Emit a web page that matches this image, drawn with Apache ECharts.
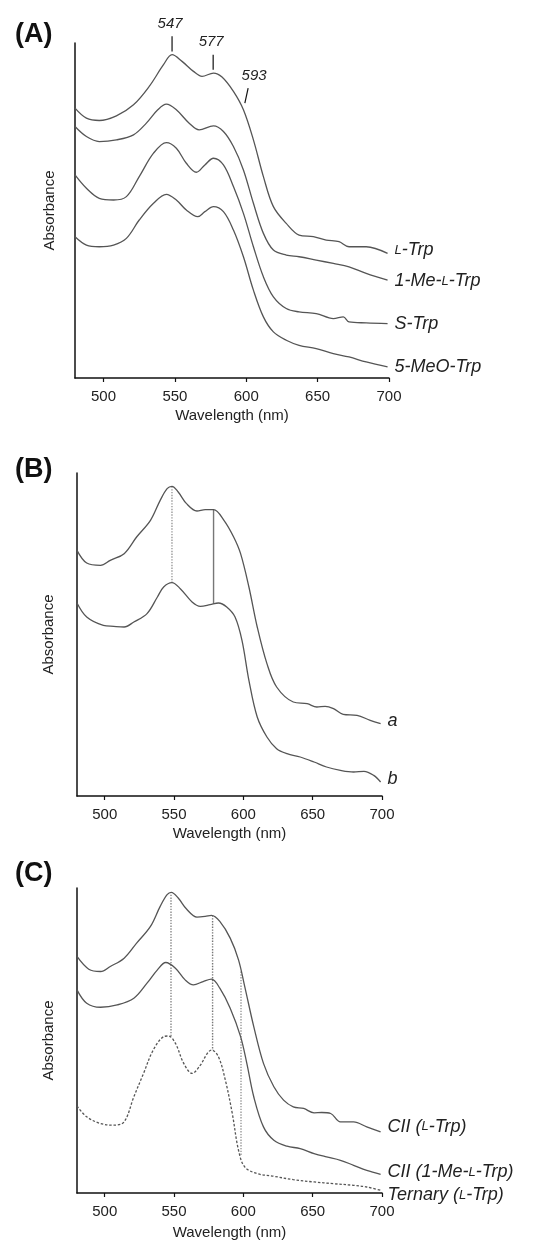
<!DOCTYPE html>
<html>
<head>
<meta charset="utf-8">
<script src="https://cdn.jsdelivr.net/npm/echarts@6/dist/echarts.min.js"></script>
<style>
  html, body { margin: 0; background: #fff; }
  #chart { width: 557px; height: 1248px; }
</style>
</head>
<body>
<div id="chart"></div>
<script>
// ---- data: [wavelength nm, absorbance (arbitrary, offset)] ----
const xTicks = [500, 550, 600, 650, 700];
const panelTitles = ['(A)', '(B)', '(C)'];

// panel A
const aLTrp = [[480,0.808],[488,0.778],[497,0.771],[509,0.785],[521,0.818],[532,0.873],[542,0.938],[548,0.968],[555,0.948],[563,0.918],[569,0.903],[577,0.913],[583,0.901],[591,0.858],[598,0.803],[605,0.713],[612,0.603],[619,0.513],[628,0.463],[637,0.428],[647,0.423],[656,0.413],[665,0.408],[672,0.393],[684,0.393],[699,0.373]];
const aMeLTrp = [[480,0.753],[488,0.723],[497,0.708],[509,0.713],[521,0.728],[530,0.763],[538,0.803],[544,0.820],[551,0.803],[560,0.763],[567,0.743],[577,0.755],[584,0.738],[591,0.693],[598,0.623],[605,0.523],[612,0.433],[619,0.383],[628,0.368],[637,0.363],[649,0.353],[661,0.343],[672,0.333],[684,0.313],[699,0.293]];
const aSTrp = [[480,0.608],[488,0.568],[497,0.538],[507,0.533],[516,0.543],[525,0.603],[535,0.673],[544,0.705],[551,0.688],[558,0.643],[565,0.616],[571,0.638],[577,0.658],[584,0.638],[591,0.573],[598,0.493],[605,0.393],[612,0.303],[619,0.243],[628,0.208],[637,0.198],[649,0.193],[661,0.178],[668,0.183],[672,0.168],[684,0.165],[699,0.163]];
const a5MeOTrp = [[480,0.423],[488,0.398],[497,0.393],[507,0.398],[516,0.418],[525,0.473],[535,0.523],[544,0.550],[551,0.533],[558,0.503],[566,0.483],[571,0.498],[577,0.513],[584,0.498],[591,0.443],[598,0.363],[605,0.263],[612,0.183],[619,0.138],[628,0.113],[637,0.098],[649,0.088],[661,0.073],[672,0.063],[684,0.048],[699,0.033]];
const aLabels = ['{sc|L}{t|-Trp}', '{t|1-Me-}{sc|L}{t|-Trp}', '{t|S-Trp}', '{t|5-MeO-Trp}'];
// peak annotations: label, [x,y] bottom, [x,y] top
const aPeaks = [
  ['547', [548, 0.978], [548, 1.023]],
  ['577', [576.8, 0.923], [576.8, 0.968]],
  ['593', [599, 0.823], [601.3, 0.868]]
];

// panel B
const bA = [[480,0.737],[487,0.699],[497,0.692],[504,0.707],[514,0.727],[523,0.777],[533,0.827],[540,0.887],[545,0.922],[548.5,0.929],[553,0.912],[559,0.877],[566.5,0.855],[572.5,0.859],[578.5,0.859],[586,0.827],[593,0.777],[598,0.727],[604,0.627],[610,0.507],[617,0.397],[624,0.327],[636,0.282],[646,0.277],[653,0.267],[659,0.269],[665,0.262],[672,0.245],[682,0.242],[691.5,0.227],[699,0.217]];
const bB = [[480,0.579],[487,0.537],[499,0.512],[506.5,0.509],[514,0.507],[521,0.522],[530.5,0.547],[538,0.597],[542.5,0.627],[548.5,0.640],[554.5,0.622],[563,0.582],[569,0.569],[576,0.574],[582,0.579],[588,0.567],[594,0.537],[599,0.467],[604,0.347],[610,0.237],[617,0.177],[624,0.142],[631.5,0.127],[641,0.117],[651,0.102],[660,0.087],[670,0.077],[679.5,0.072],[687,0.074],[694,0.062],[699,0.042]];
const bLabels = ['{t|a}', '{t|b}'];
// guide lines: x, y top, y bottom
const bGuides = [[548.5, 0.929, 0.640], [578.5, 0.859, 0.577]];

// panel C
const cLTrp = [[480,0.708],[488.5,0.670],[497,0.663],[504,0.678],[514,0.703],[523,0.748],[533,0.798],[540,0.858],[545,0.893],[548,0.900],[553,0.883],[559,0.850],[566.5,0.826],[572.5,0.828],[577,0.831],[583,0.813],[590.5,0.763],[596.5,0.698],[601,0.618],[607.5,0.498],[614.5,0.388],[622,0.318],[629,0.278],[636,0.258],[643.5,0.253],[651,0.240],[656.5,0.241],[663,0.238],[670,0.213],[679.5,0.213],[689,0.198],[699,0.183]];
const cMeLTrp = [[480,0.608],[487,0.568],[497,0.556],[509,0.563],[521,0.583],[530.5,0.628],[538,0.668],[544,0.690],[551,0.673],[558,0.638],[564,0.623],[571,0.633],[577,0.640],[583,0.613],[590.5,0.553],[598,0.468],[602.5,0.388],[607.5,0.288],[614.5,0.198],[622,0.158],[631.5,0.140],[641,0.133],[651,0.118],[660,0.108],[670,0.098],[679.5,0.083],[689,0.068],[699,0.056]];
const cTernary = [[480,0.260],[487,0.228],[497,0.208],[506.5,0.203],[514,0.213],[521,0.288],[528,0.358],[535,0.428],[542.5,0.468],[546,0.470],[551,0.448],[557,0.388],[563,0.358],[569,0.383],[574,0.418],[577,0.428],[582,0.408],[587,0.338],[592,0.238],[596.5,0.128],[601,0.078],[610,0.058],[622,0.050],[636,0.040],[651,0.033],[665,0.028],[679.5,0.023],[689,0.018],[699,0.008]];
const cLabels = ['{t|CII (}{sc|L}{t|-Trp)}', '{t|CII (1-Me-}{sc|L}{t|-Trp)}', '{t|Ternary (}{sc|L}{t|-Trp)}'];
const cGuides = [[547.8, 0.893, 0.468], [577.8, 0.831, 0.428], [598.3, 0.663, 0.113]];

// ---- chart ----
const FONT = '"Liberation Sans", Arial, Helvetica, sans-serif';
const INK = '#111';
const CURVE = '#555';

const grids = [
  { left: 75, top: 43, width: 314, height: 335 },
  { left: 77, top: 473, width: 305, height: 323 },
  { left: 77, top: 888, width: 305, height: 305 },
  { left: 75, top: 23, width: 314, height: 355 } // overlay for peak marks in (A)
];
const yMax = [1.003, 0.969, 0.913, 1.063];
const nameGaps = [30, 30, 32];
const yNameGaps = [18, 21, 21];

const xAxes = grids.map((g, i) => {
  if (i === 3) return { gridIndex: 3, type: 'value', min: 480, max: 700, show: false };
  return {
    gridIndex: i, type: 'value', min: 480, max: 700,
    name: 'Wavelength (nm)', nameLocation: 'middle', nameGap: nameGaps[i],
    nameTextStyle: { fontFamily: FONT, fontSize: 15, color: '#222' },
    axisLine: { onZero: false, lineStyle: { color: INK, width: 1.5 } },
    axisTick: { show: true, length: 4, customValues: xTicks, lineStyle: { color: INK, width: 1.2 } },
    axisLabel: { customValues: xTicks, fontFamily: FONT, fontSize: 15, color: '#222', margin: 11 },
    splitLine: { show: false }
  };
});
const yAxes = grids.map((g, i) => {
  if (i === 3) return { gridIndex: 3, type: 'value', min: 0, max: yMax[3], show: false };
  return {
    gridIndex: i, type: 'value', min: 0, max: yMax[i],
    name: 'Absorbance', nameLocation: 'middle', nameGap: yNameGaps[i],
    nameTextStyle: { fontFamily: FONT, fontSize: 15, color: '#222' },
    axisLine: { show: true, lineStyle: { color: INK, width: 1.5 } },
    axisTick: { show: false }, axisLabel: { show: false }, splitLine: { show: false }
  };
});

// small-caps "L" drawn as a smaller capital
const rich = {
  t: { fontFamily: FONT, fontSize: 18, fontStyle: 'italic', color: '#222', verticalAlign: 'middle' },
  sc: { fontFamily: FONT, fontSize: 13, fontStyle: 'italic', color: '#222', verticalAlign: 'middle' }
};

function curve(data, gi, label, dy, dashed) {
  return {
    type: 'line', xAxisIndex: gi, yAxisIndex: gi, data: data,
    smooth: 0.35, showSymbol: false, silent: true,
    lineStyle: { color: CURVE, width: 1.3, type: dashed ? [2.5, 1.8] : 'solid' },
    endLabel: { show: true, formatter: () => label, distance: 7, offset: [0, dy], rich: rich }
  };
}
function guide(g, gi, type, color) {
  return {
    type: 'line', xAxisIndex: gi, yAxisIndex: gi, silent: true, showSymbol: false,
    data: [[g[0], g[1]], [g[0], g[2]]],
    lineStyle: { color: color, width: 1.4, type: type }
  };
}
function peak(p) {
  return {
    type: 'line', xAxisIndex: 3, yAxisIndex: 3, silent: true,
    symbol: 'circle', symbolSize: 0,
    data: [p[1], {
      value: p[2],
      label: {
        show: true, formatter: p[0], position: 'top', distance: 5,
        offset: p[0] === '593' ? [6, 0] : [-2, 0],
        fontFamily: FONT, fontSize: 15, fontStyle: 'italic', color: '#222'
      }
    }],
    lineStyle: { color: INK, width: 1.2 }
  };
}

const series = [
  curve(aLTrp, 0, aLabels[0], -3),
  curve(aMeLTrp, 0, aLabels[1], 1),
  curve(aSTrp, 0, aLabels[2], 0),
  curve(a5MeOTrp, 0, aLabels[3], 0),
  ...aPeaks.map(peak),
  guide(bGuides[0], 1, 'dotted', '#999'),
  guide(bGuides[1], 1, 'solid', '#777'),
  curve(bA, 1, bLabels[0], -3),
  curve(bB, 1, bLabels[1], -3),
  guide(cGuides[0], 2, 'dotted', '#888'),
  guide(cGuides[1], 2, 'dotted', '#777'),
  guide(cGuides[2], 2, 'dotted', '#999'),
  curve(cLTrp, 2, cLabels[0], -5),
  curve(cMeLTrp, 2, cLabels[1], -2),
  curve(cTernary, 2, cLabels[2], 5, true)
];

const titleTops = [16, 451, 855];
const option = {
  animation: false,
  backgroundColor: '#fff',
  title: panelTitles.map((t, i) => ({
    text: t, left: 10, top: titleTops[i],
    textStyle: { fontFamily: FONT, fontSize: 27, fontWeight: 'bold', color: '#111' }
  })),
  grid: grids,
  xAxis: xAxes,
  yAxis: yAxes,
  series: series
};

const chart = echarts.init(document.getElementById('chart'));
chart.setOption(option);
</script>
</body>
</html>
